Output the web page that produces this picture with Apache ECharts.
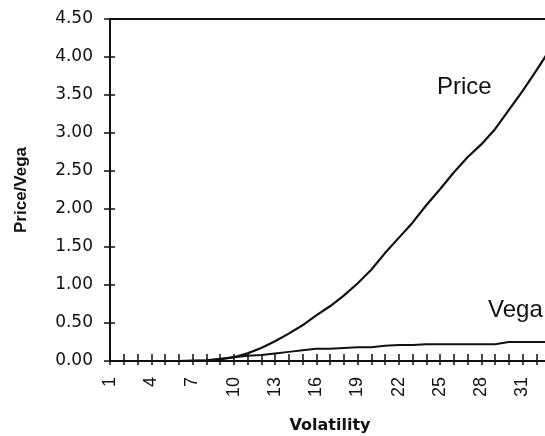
<!DOCTYPE html>
<html>
<head>
<meta charset="utf-8">
<style>html,body{margin:0;padding:0;background:#fff}#c{width:545px;height:436px}</style>
<script src="https://cdn.jsdelivr.net/npm/echarts@6/dist/echarts.min.js"></script>
</head>
<body>
<div id="c"></div>
<script>
var volatility = [1,2,3,4,5,6,7,8,9,10,11,12,13,14,15,16,17,18,19,20,21,22,23,24,25,26,27,28,29,30,31,32,33];
var price = [0,0,0,0,0,0,0,0.005,0.02,0.05,0.10,0.17,0.26,0.36,0.47,0.60,0.72,0.86,1.02,1.20,1.42,1.62,1.82,2.05,2.26,2.48,2.68,2.85,3.05,3.30,3.55,3.82,4.10];
var vega = [0,0,0,0,0,0,0.005,0.01,0.03,0.05,0.07,0.08,0.10,0.12,0.14,0.16,0.16,0.17,0.18,0.18,0.20,0.21,0.21,0.22,0.22,0.22,0.22,0.22,0.22,0.25,0.25,0.25,0.25];
var yMin = 0, yMax = 4.5, yStep = 0.5;

var chart = echarts.init(document.getElementById('c'));
var ink = '#111';
var gridPos = {left: 110, top: 19, right: -5, bottom: 75, containLabel: false, outerBoundsMode: 'none'};
chart.setOption({
  animation: false,
  backgroundColor: '#fff',
  grid: [Object.assign({}, gridPos), Object.assign({}, gridPos)],
  xAxis: [
    {gridIndex: 0, type: 'category', position: 'bottom', data: volatility, boundaryGap: false,
     axisLine: {lineStyle: {color: ink, width: 2}},
     axisTick: {show: true, interval: 0, length: 4, lineStyle: {color: ink, width: 1.5}},
     axisLabel: {interval: 2, rotate: 90, margin: 16, color: ink, fontFamily: 'Liberation Sans', fontSize: 18},
     name: 'Volatility', nameLocation: 'middle', nameGap: 57,
     nameTextStyle: {fontFamily: 'DejaVu Sans', fontWeight: 'bold', fontSize: 16, color: ink}},
    {gridIndex: 0, type: 'category', position: 'top', data: volatility, boundaryGap: false,
     axisLine: {lineStyle: {color: ink, width: 2}}, axisTick: {show: false}, axisLabel: {show: false}},
    {gridIndex: 1, type: 'category', position: 'bottom', data: volatility, boundaryGap: false,
     axisLine: {show: true, lineStyle: {color: ink, width: 2}},
     axisTick: {show: true, inside: true, interval: 0, length: 7, lineStyle: {color: ink, width: 1.5}},
     axisLabel: {show: false}}
  ],
  yAxis: [
    {gridIndex: 0, type: 'value', min: yMin, max: yMax, interval: yStep, position: 'left',
     axisLine: {show: true, lineStyle: {color: ink, width: 2}},
     axisTick: {show: true, length: 6, lineStyle: {color: ink, width: 1.5}},
     splitLine: {show: false},
     axisLabel: {margin: 17, color: ink, fontFamily: 'DejaVu Sans', fontSize: 17,
       formatter: function (v) { return v.toFixed(2); }},
     name: 'Price/Vega', nameLocation: 'middle', nameRotate: 90, nameGap: 80,
     nameTextStyle: {fontFamily: 'Liberation Sans', fontWeight: 'bold', fontSize: 17, color: ink}},
    {gridIndex: 1, type: 'value', min: yMin, max: yMax, interval: yStep, position: 'left',
     axisLine: {show: true, lineStyle: {color: ink, width: 2}},
     axisTick: {show: true, inside: true, length: 5, lineStyle: {color: ink, width: 1.5}},
     splitLine: {show: false}, axisLabel: {show: false}}
  ],
  series: [
    {name: 'Price', type: 'line', xAxisIndex: 0, yAxisIndex: 0, data: price, showSymbol: false,
     lineStyle: {color: ink, width: 2.2}},
    {name: 'Vega', type: 'line', xAxisIndex: 0, yAxisIndex: 0, data: vega, showSymbol: false,
     lineStyle: {color: ink, width: 2}}
  ],
  graphic: [
    {type: 'text', left: 437, top: 75, style: {text: 'Price', font: '24px "Liberation Sans"', fill: ink}},
    {type: 'text', left: 488, top: 298, style: {text: 'Vega', font: '24px "Liberation Sans"', fill: ink}}
  ]
});
</script>
</body>
</html>
